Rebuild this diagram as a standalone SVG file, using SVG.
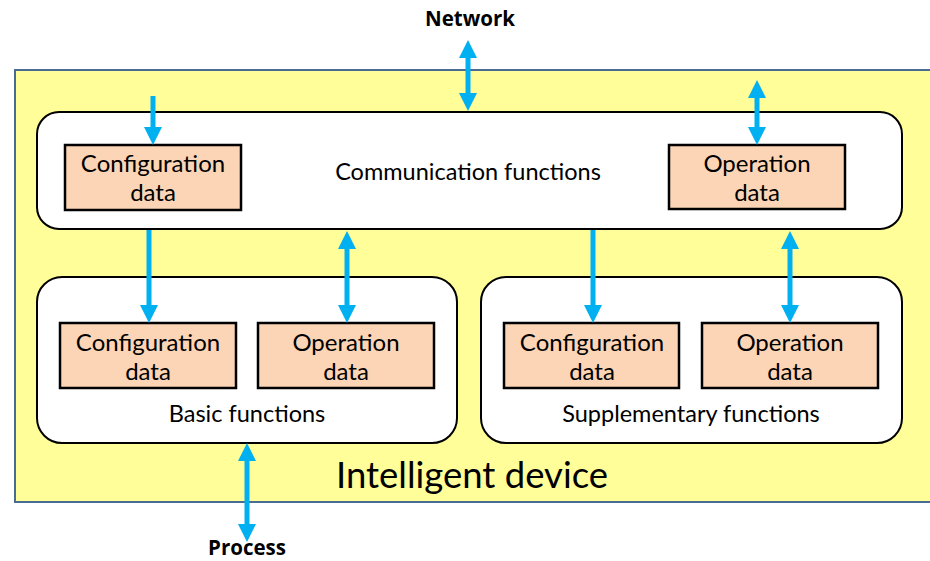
<svg xmlns="http://www.w3.org/2000/svg" width="930" height="561" viewBox="0 0 930 561">
<style>
.fn{fill:#ffffff;stroke:#000000;stroke-width:2}
.dat{fill:#FBD5B5;stroke:#000000;stroke-width:2.5}
.t{font-family:Lato,"Liberation Sans",sans-serif;font-size:24px;fill:#000000;text-anchor:middle}
.tf{font-family:Lato,"Liberation Sans",sans-serif;font-size:23.5px;fill:#000000;text-anchor:middle}
.b{font-family:"Open Sans","Liberation Sans",sans-serif;font-size:20.5px;font-weight:bold;fill:#000000;text-anchor:middle}
.arr{stroke:#00B0F0;stroke-width:5;fill:none}
</style>
<defs>
<marker id="ah" markerUnits="userSpaceOnUse" markerWidth="18" markerHeight="18" refX="0" refY="9" orient="auto-start-reverse" viewBox="0 0 18 18">
<path d="M0,0 L18,9 L0,18 z" fill="#00B0F0"/>
</marker>
</defs>
<rect width="930" height="561" fill="#ffffff"/>
<g id="device">
<rect x="15" y="70" width="930" height="432" fill="#FFFE99" stroke="#4A6C94" stroke-width="2"/>
<text x="472" y="488" font-family="Lato,'Liberation Sans',sans-serif" font-size="36.5" text-anchor="middle" fill="#000">Intelligent device</text>
</g>
<g id="comm">
<rect class="fn" x="37" y="112" width="865" height="117" rx="22"/>
<text class="tf" x="468" y="180">Communication functions</text>
</g>
<g id="comm-config">
<rect class="dat" x="65" y="145" width="176" height="65"/>
<text class="t" x="153" y="172">Configuration</text>
<text class="t" x="153" y="201">data</text>
</g>
<g id="comm-op">
<rect class="dat" x="669" y="145" width="176" height="64"/>
<text class="t" x="757" y="172">Operation</text>
<text class="t" x="757" y="201">data</text>
</g>
<g id="basic">
<rect class="fn" x="37" y="277" width="420" height="166" rx="25"/>
<text class="tf" x="247" y="422">Basic functions</text>
</g>
<g id="basic-config">
<rect class="dat" x="60" y="323" width="176" height="65"/>
<text class="t" x="148" y="351">Configuration</text>
<text class="t" x="148" y="380">data</text>
</g>
<g id="basic-op">
<rect class="dat" x="258" y="323" width="176" height="65"/>
<text class="t" x="346" y="351">Operation</text>
<text class="t" x="346" y="380">data</text>
</g>
<g id="supp">
<rect class="fn" x="481" y="277" width="421" height="166" rx="25"/>
<text class="tf" x="691" y="422">Supplementary functions</text>
</g>
<g id="supp-config">
<rect class="dat" x="504" y="323" width="175" height="65"/>
<text class="t" x="592" y="351">Configuration</text>
<text class="t" x="592" y="380">data</text>
</g>
<g id="supp-op">
<rect class="dat" x="702" y="323" width="176" height="65"/>
<text class="t" x="790" y="351">Operation</text>
<text class="t" x="790" y="380">data</text>
</g>
<g id="network">
<text class="b" x="470" y="26">Network</text>
</g>
<g id="process">
<text class="b" x="247" y="555">Process</text>
</g>
<g id="connectors">
<line class="arr" x1="468" y1="58" x2="468" y2="93" marker-start="url(#ah)" marker-end="url(#ah)"/>
<line class="arr" x1="153" y1="96" x2="153" y2="127" marker-end="url(#ah)"/>
<line class="arr" x1="757" y1="98" x2="757" y2="127" marker-start="url(#ah)" marker-end="url(#ah)"/>
<line class="arr" x1="149" y1="230" x2="149" y2="305" marker-end="url(#ah)"/>
<line class="arr" x1="347" y1="249" x2="347" y2="305" marker-start="url(#ah)" marker-end="url(#ah)"/>
<line class="arr" x1="593" y1="230" x2="593" y2="305" marker-end="url(#ah)"/>
<line class="arr" x1="790" y1="249" x2="790" y2="305" marker-start="url(#ah)" marker-end="url(#ah)"/>
<line class="arr" x1="247" y1="461" x2="247" y2="524" marker-start="url(#ah)" marker-end="url(#ah)"/>
</g>
</svg>
